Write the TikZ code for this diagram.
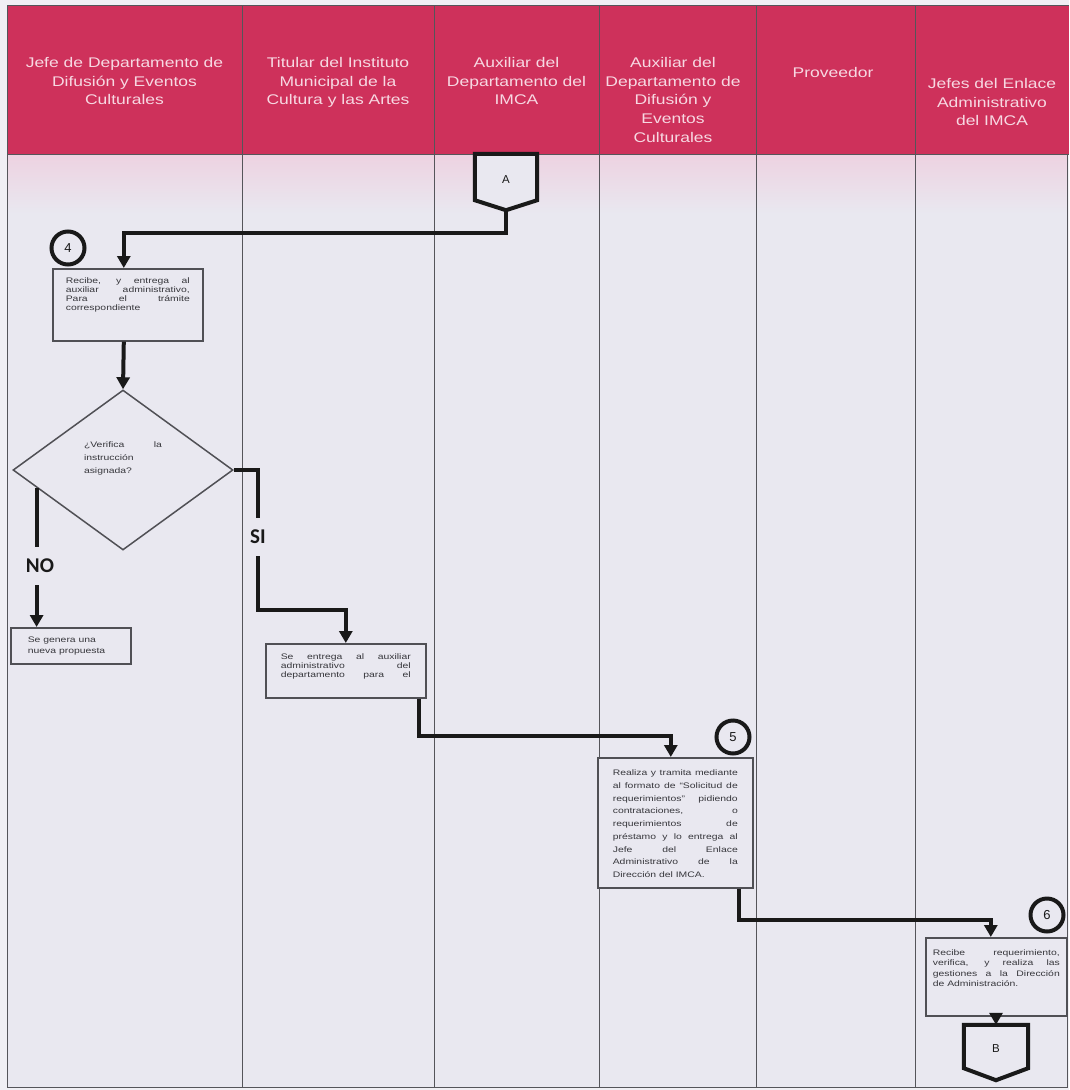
\documentclass[tikz,border=0pt]{standalone}
\usepackage{fontspec}
\setmainfont{Liberation Sans}
\newfontfamily\hdrfont[FakeStretch=1.25]{Liberation Sans}
\newfontfamily\bodyfont[FakeStretch=1.3]{Liberation Sans}
\newfontfamily\lblfont{Carlito}
\usetikzlibrary{arrows.meta,shapes.geometric,calc}
\definecolor{pagebg}{RGB}{240,239,244}
\definecolor{hdr}{RGB}{206,49,91}
\definecolor{hdrtext}{RGB}{247,216,226}
\definecolor{bodybg}{RGB}{233,232,240}
\definecolor{band}{RGB}{237,210,225}
\definecolor{colline}{RGB}{85,85,90}
\definecolor{boxline}{RGB}{80,80,85}
\definecolor{connc}{RGB}{25,25,25}
\definecolor{txt}{RGB}{55,55,60}
\newcommand\jl[2]{\makebox[#1][s]{#2}}
\newcommand\pb[4]{\parbox[c][#2][t]{#1}{\vspace*{#3}#4}}
\begin{document}
\begin{tikzpicture}[x=1pt,y=-1pt,
  hdrtxt/.style={font=\hdrfont\fontsize{14}{18.7}\selectfont, text=hdrtext, align=center, anchor=north, inner sep=0pt},
  proc/.style={draw=boxline, line width=1.6pt, fill=bodybg, anchor=north west, inner ysep=0pt, text=txt},
  circ/.style={circle, draw=connc, line width=4pt, fill=bodybg, minimum size=33pt, inner sep=0pt, font=\fontsize{13}{13}\selectfont, text=connc},
  offpage/.style={draw=connc, line width=4pt, line join=miter, fill=bodybg},
  conn/.style={draw=connc, line width=4pt},
  arr/.style={conn, -{Triangle[width=13pt,length=12pt]}},
  lbl/.style={font=\lblfont\bfseries\fontsize{21}{21}\selectfont, text=connc, inner sep=12pt},
  colline/.style={draw=colline, line width=1pt}]
\useasboundingbox (0,0) rectangle (1069,1090);
\fill[pagebg] (0,0) rectangle (1069,1090);
% body
\fill[bodybg] (7,154) rectangle (1067,1087);
\shade[top color=band, bottom color=bodybg] (7,154) rectangle (1067,214);
% header
\fill[hdr] (7,5) rectangle (1069,154);
\draw[colline] (7,154) -- (1069,154);
\draw[colline] (7,5) -- (1069,5);
\foreach \cx in {242,434,599,756,915}{\draw[colline] (\cx,5) -- (\cx,1087);}
\draw[colline] (7,5) -- (7,1087) -- (1067,1087) -- (1067,154);
% header texts
\node[hdrtxt] (h1) at (124.5,57) {Jefe de Departamento de\\Difusión y Eventos\\Culturales};
\node[hdrtxt] (h2) at (338,57) {Titular del Instituto\\Municipal de la\\Cultura y las Artes};
\node[hdrtxt] (h3) at (516.5,57) {Auxiliar del\\Departamento del\\IMCA};
\node[hdrtxt] (h4) at (673,57) {Auxiliar del\\Departamento de\\Difusión y\\Eventos\\Culturales};
\node[hdrtxt] (h5) at (833,67.5) {Proveedor};
\node[hdrtxt] (h6) at (992,78) {Jefes del Enlace\\Administrativo\\del IMCA};
% off-page connector A
\node[minimum width=62pt, minimum height=56pt, inner sep=0pt] (A) at (506,182) {};
\draw[offpage] (A.north west) -- (A.north east) -- ($(A.south east)+(0,-10)$) -- (A.south) -- ($(A.south west)+(0,-10)$) -- cycle;
\node[font=\fontsize{11.5}{11.5}\selectfont, text=connc] (Alab) at (A.center) {\raisebox{4pt}{A}};
% step 4
\node[proc, inner xsep=13pt] (box4) at (52,268) {\bodyfont\fontsize{8}{9}\selectfont\pb{124pt}{72pt}{9.2pt}{\jl{124pt}{Recibe, y entrega al}\\\jl{124pt}{auxiliar administrativo,}\\\jl{124pt}{Para el trámite}\\correspondiente}};
\node[circ] (c4) at (68,248) {4};
% decision
\node[diamond, draw=boxline, line width=1.5pt, fill=bodybg, minimum width=220pt, minimum height=160pt, inner sep=0pt,
  label={[font=\bodyfont\fontsize{8}{13}\selectfont, text=txt, align=left, yshift=12pt]center:{\jl{78pt}{¿Verifica la}\\instrucción\\asignada?}}] (dia) at (123,470) {};
% NO branch
\node[proc, inner xsep=17pt] (boxno) at (10,627) {\bodyfont\fontsize{8}{11}\selectfont\pb{86pt}{36pt}{9.2pt}{Se genera una\\nueva propuesta}};
\node[lbl] (no) at (40,566) {NO};
% SI branch
\node[lbl] (si) at (258,537) {SI};
\node[proc, inner xsep=15pt] (boxsi) at (265,643) {\bodyfont\fontsize{8}{9}\selectfont\pb{130pt}{54pt}{10pt}{\jl{130pt}{Se entrega al auxiliar}\\\jl{130pt}{administrativo del}\\\jl{130pt}{departamento para el}}};
% step 5
\node[proc, inner xsep=15pt] (box5) at (597,757) {\bodyfont\fontsize{8}{12.75}\selectfont\pb{125pt}{130pt}{12pt}{\jl{125pt}{Realiza y tramita mediante}\\\jl{125pt}{al formato de “Solicitud de}\\\jl{125pt}{requerimientos” pidiendo}\\\jl{125pt}{contrataciones, o}\\\jl{125pt}{requerimientos de}\\\jl{125pt}{préstamo y lo entrega al}\\\jl{125pt}{Jefe del Enlace}\\\jl{125pt}{Administrativo de la}\\Dirección del IMCA.}};
\node[circ] (c5) at (733,737) {5};
% step 6
\node[proc, inner xsep=7pt] (box6) at (925,937) {\bodyfont\fontsize{8}{10.3}\selectfont\pb{127pt}{78pt}{12pt}{\jl{127pt}{Recibe requerimiento,}\\\jl{127pt}{verifica, y realiza las}\\\jl{127pt}{gestiones a la Dirección}\\de Administración.}};
\node[circ] (c6) at (1047,915) {6};
% off-page connector B
\node[minimum width=64pt, minimum height=55pt, inner sep=0pt] (B) at (996,1052.5) {};
\draw[offpage] (B.north west) -- (B.north east) -- ($(B.south east)+(0,-12)$) -- (B.south) -- ($(B.south west)+(0,-12)$) -- cycle;
\node[font=\fontsize{11.5}{11.5}\selectfont, text=connc] (Blab) at (B.center) {\raisebox{7pt}{B}};
% connectors
\draw[arr] (A.south) -- ++(0,23) -| ([xshift=-4pt]box4.north);
\draw[arr] ([xshift=-4pt]box4.south) -- (dia.north);
\coordinate (nostart) at ($(dia.west)!0.22!(dia.south)$);
\draw[conn] (nostart) -- (nostart |- no.north);
\draw[arr] (nostart |- no.south) -- (nostart |- boxno.north);
\draw[conn] (dia.east) -| (si.north);
\draw[arr] (si.south) -- ++(0,54) -| (boxsi.north);
\draw[arr] ([xshift=-8pt]boxsi.south east) -- ++(0,37) -| ([xshift=-4.5pt]box5.north);
\draw[arr] ([xshift=-15pt]box5.south east) -- ++(0,31) -| ([xshift=-5.5pt]box6.north);
\draw[arr] (box6.south -| B.north) -- (B.north);
\end{tikzpicture}
\end{document}
